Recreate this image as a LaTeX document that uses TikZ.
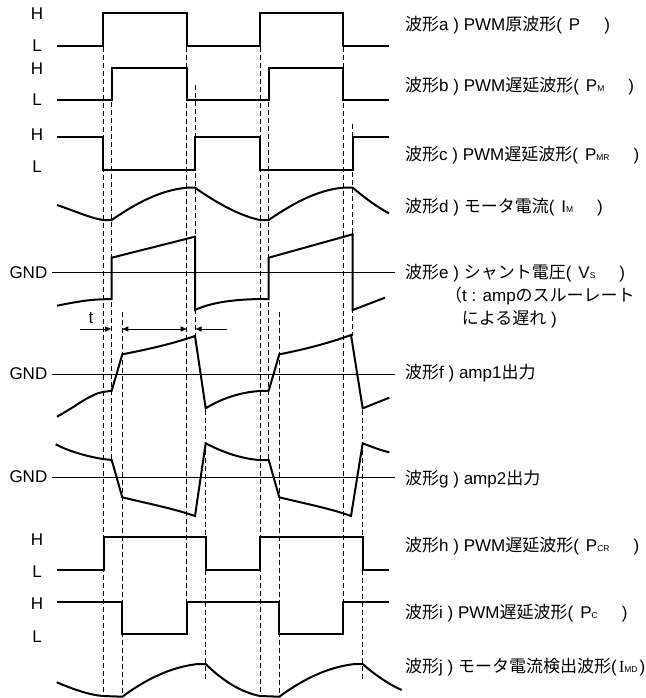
\documentclass[tikz,border=0pt]{standalone}
\usepackage{fontspec}
\setmainfont{Liberation Sans}
\newfontfamily\jp{Noto Sans CJK JP}
\newfontfamily\rmI{Liberation Serif}
\usetikzlibrary{arrows.meta}
\newcommand\sm[1]{{\fontsize{8.5}{8.5}\selectfont #1}}
\newcommand\gap[1]{\hspace{#1pt}}
\tikzset{
  wave/.style={line width=2pt},
  gndline/.style={line width=1pt},
  guide/.style={line width=1pt, dash pattern=on 5pt off 3pt},
  lvl/.style={font=\fontsize{17}{17}\selectfont, inner sep=0pt},
  lbl/.style={anchor=west, font=\fontsize{17}{18}\selectfont, inner sep=0pt},
  dim/.style={line width=0.8pt, -{Triangle[length=6pt,width=5pt]}}
}
\begin{document}
\begin{tikzpicture}[x=1pt,y=-1pt]
    \useasboundingbox (0,0) rectangle (645,698);

    % vertical guides: x / top / bottom
    \foreach \x/\t/\b in {103/46.7/692, 111.7/101.7/460, 122.3/312/694,
        186.7/46.7/602, 195/85/336, 205.7/410/680,
        260/46.7/692, 268.7/101.7/460, 279.3/312/694,
        343.3/46.7/602, 352.7/124/336, 362.7/410/680} {
        \draw[guide] (\x,\t) -- (\x,\b);
    }

    % H / L levels
    \foreach \n/\y/\s in {ha/14/H, la/46/L, hb/69/H, lb/100/L, hc/135/H, lc/167/L,
        hh/540/H, lh/572/L, hi/604/H, li/637/L} {
        \node[lvl] (\n) at (37,\y) {\s};
    }
    \foreach \n/\y in {gnde/272.7, gndf/374, gndg/477} {
        \node[lvl, anchor=east] (\n) at (47.5,\y) {GND};
        \draw[gndline] (52,\y) -- (395,\y);
    }

    % a, b, c
    \draw[wave] (57,45.7) -- (103,45.7) -- (103,13.3) -- (187,13.3) -- (187,45.7) -- (260,45.7)
        -- (260,13.3) -- (343,13.3) -- (343,45.7) -- (389,45.7);
    \draw[wave] (57,99.7) -- (111.7,99.7) -- (111.7,67.7) -- (187,67.7) -- (187,99.7) -- (268.7,99.7)
        -- (268.7,67.7) -- (343,67.7) -- (343,99.7) -- (389,99.7);
    \draw[wave] (57,137) -- (103,137) -- (103,169.7) -- (195,169.7) -- (195,137) -- (260,137)
        -- (260,169.7) -- (352.7,169.7) -- (352.7,137) -- (389,137);

    % d
    \draw[wave] (57,205) .. controls (75,211) and (90,218) .. (103,220) -- (111.7,220)
        .. controls (135,204) and (160,190) .. (187,187.7) -- (195,187.7)
        .. controls (215,202) and (240,216) .. (260,220) -- (268.7,220)
        .. controls (292,204) and (317,190) .. (343,187.7) -- (352.7,187.7)
        .. controls (365,198) and (377,207) .. (389,213.3);

    % e
    \draw[wave] (57,305.7) .. controls (75,302) and (90,299.5) .. (103,299.3) -- (111.7,299)
        -- (111.7,257.7) -- (195,236.7) -- (195,310)
        .. controls (212,302) and (235,299.5) .. (260,299) -- (268.7,299)
        -- (268.7,257.7) -- (352.7,234.3) -- (352.7,310) -- (385,297.7);

    % t marks
    \node[lvl] (tlbl) at (91,318) {t};
    \draw[dim] (80,329) -- (111.2,329);
    \draw[dim, {Triangle[length=6pt,width=5pt]}-{Triangle[length=6pt,width=5pt]}] (122.3,329) -- (186.7,329);
    \draw[dim] (227,329) -- (195.5,329);

    % f
    \draw[wave] (57,416.7) .. controls (75,407) and (90,394) .. (103,392) -- (111.7,390.7) -- (122.3,354.3)
        .. controls (150,349) and (175,343) .. (195,336) -- (205.7,408.3)
        .. controls (222,398) and (242,392) .. (260,391) -- (268.7,390.7) -- (279.3,354.3)
        .. controls (307,349) and (332,342) .. (351,335) -- (362.7,408.3) -- (389.3,397.7);

    % g
    \draw[wave] (55.7,444.3) .. controls (70,452) and (90,457) .. (103,459) -- (111.7,460) -- (122.3,497.3)
        .. controls (150,504) and (175,509) .. (195,516) -- (205.7,443.3)
        .. controls (222,452) and (242,459) .. (260,460) -- (268.7,460) -- (279.3,497.3)
        .. controls (307,504) and (332,509) .. (351,516) -- (362.7,443.3)
        .. controls (372,447) and (380,450) .. (389.3,452.3);

    % h, i
    \draw[wave] (57,570) -- (103.5,570) -- (103.5,537.3) -- (205.7,537.3) -- (205.7,570) -- (260,570)
        -- (260,537.3) -- (362.7,537.3) -- (362.7,570) -- (389,570);
    \draw[wave] (57,602.3) -- (122.3,602.3) -- (122.3,634.3) -- (186.7,634.3) -- (186.7,602.3) -- (279.3,602.3)
        -- (279.3,634.3) -- (343.3,634.3) -- (343.3,602.3) -- (389,602.3);

    % j
    \draw[wave] (56.7,682.3) .. controls (75,690) and (90,695) .. (103,696) -- (122.3,696.7)
        .. controls (145,680) and (170,667) .. (198,664) -- (205.7,664)
        .. controls (222,680) and (240,692) .. (260,696) -- (279.3,696.7)
        .. controls (302,680) and (327,667) .. (355,664) -- (362.7,664)
        .. controls (375,675) and (390,685) .. (401.7,690);

    % waveform names
    \node[lbl] (wa) at (405,25) {{\jp 波形}a ) PWM{\jp 原波形}(\gap{7}P\gap{24})};
    \node[lbl] (wb) at (405,86) {{\jp 波形}b ) PWM{\jp 遅延波形}(\gap{7}P\sm{M}\gap{24})};
    \node[lbl] (wc) at (405,155) {{\jp 波形}c ) PWM{\jp 遅延波形}(\gap{7}P\sm{MR}\gap{24})};
    \node[lbl] (wd) at (405,207) {{\jp 波形}d ) {\jp モータ電流}(\gap{7}I\sm{M}\gap{24})};
    \node[lbl] (we) at (405,273) {{\jp 波形}e ) {\jp シャント電圧}(\gap{7}V\sm{S}\gap{24})};
    \node[lbl] (we2) at (445,296) {{\jp （}t : amp{\jp のスルーレート}};
    \node[lbl] (we3) at (461.7,319) {{\jp による遅れ} )};
    \node[lbl] (wf) at (405,373) {{\jp 波形}f ) amp1{\jp 出力}};
    \node[lbl] (wg) at (405,479) {{\jp 波形}g ) amp2{\jp 出力}};
    \node[lbl] (wh) at (405,546) {{\jp 波形}h ) PWM{\jp 遅延波形}(\gap{7}P\sm{CR}\gap{24})};
    \node[lbl] (wi) at (405,613) {{\jp 波形}i ) PWM{\jp 遅延波形}(\gap{7}P\sm{C}\gap{24})};
    \node[lbl] (wj) at (405,667) {{\jp 波形}j ) {\jp モータ電流検出波形}(\gap{2}{\rmI I}\sm{MD}\gap{2})};
\end{tikzpicture}
\end{document}
